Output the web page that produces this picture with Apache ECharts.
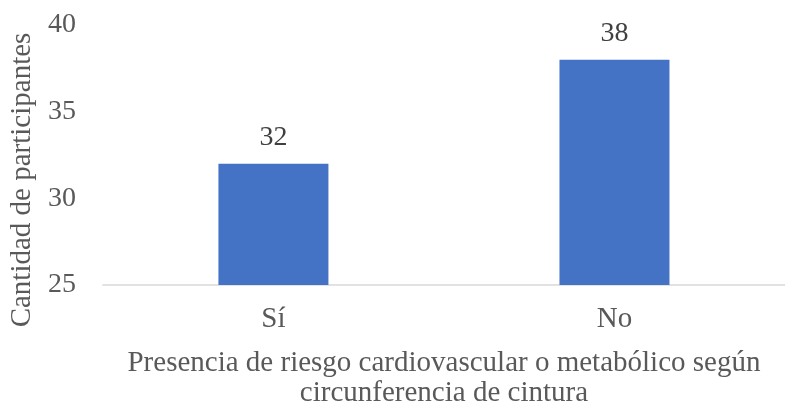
<!DOCTYPE html>
<html>
<head>
<meta charset="utf-8">
<script src="https://cdn.jsdelivr.net/npm/echarts@6/dist/echarts.min.js"></script>
<style>
	html, body { margin: 0; padding: 0; background: #ffffff; }
	#main { width: 785px; height: 413px; }
</style>
</head>
<body>
<div id="main"></div>
<script>
var categorias = ['Sí', 'No'];
var participantes = [32, 38];
var ticksY = [25, 30, 35, 40];

var fuente = '"Liberation Serif", "Times New Roman", serif';

// 基于准备好的dom，初始化echarts实例
var myChart = echarts.init(document.getElementById('main'));

var option = {
	animation: false,
	backgroundColor: '#ffffff',
	grid: {
		left: 101,
		top: 25,
		width: 696,
		height: 265
	},
	xAxis: {
		type: 'category',
		data: categorias,
		name: 'Presencia de riesgo cardiovascular o metabólico según\ncircunferencia de cintura',
		nameLocation: 'middle',
		nameGap: 63,
		nameTextStyle: {
			fontFamily: fuente,
			fontSize: 29,
			color: '#595959',
			lineHeight: 30
		},
		axisLine: { lineStyle: { color: '#d9d9d9', width: 1.5 } },
		axisTick: { show: false },
		axisLabel: {
			fontFamily: fuente,
			fontSize: 29,
			color: '#595959',
			margin: 20
		}
	},
	yAxis: {
		type: 'value',
		min: ticksY[0],
		max: ticksY[ticksY.length - 1],
		interval: 5,
		name: 'Cantidad de participantes',
		nameLocation: 'middle',
		nameGap: 64,
		nameTextStyle: {
			fontFamily: fuente,
			fontSize: 29,
			color: '#595959',
			padding: [0, 50, 0, 0]
		},
		axisLine: { show: false },
		axisTick: { show: false },
		splitLine: { show: false },
		axisLabel: {
			fontFamily: fuente,
			fontSize: 28,
			color: '#595959',
			margin: 27
		}
	},
	series: [{
		type: 'bar',
		data: participantes,
		barWidth: 110,
		itemStyle: { color: '#4472c4' },
		label: {
			show: true,
			position: 'top',
			distance: 12,
			fontFamily: fuente,
			fontSize: 28,
			color: '#404040'
		}
	}]
};

// 使用刚指定的配置项和数据显示图表。
myChart.setOption(option);
</script>
</body>
</html>
